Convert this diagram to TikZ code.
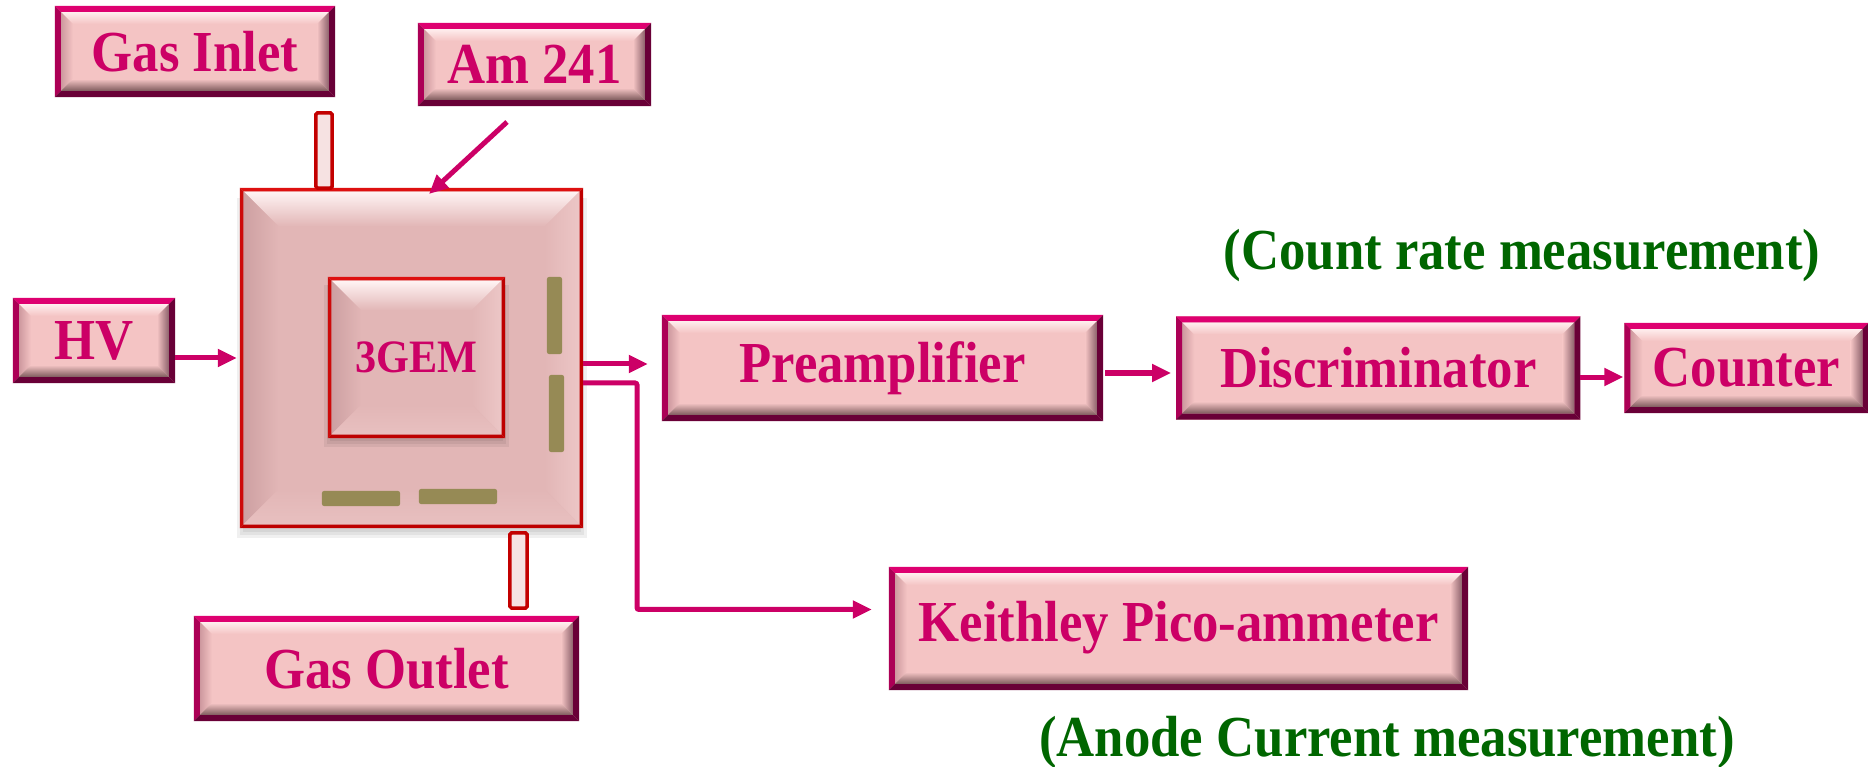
\documentclass[tikz,border=0pt]{standalone}
\usepackage{fontspec}
\setmainfont{Liberation Serif}
\usepackage{xcolor}
\usepackage{graphicx}
\usepackage{tikz}
\usetikzlibrary{positioning,arrows.meta,calc,backgrounds}
% label boxes
\definecolor{lbFill}{RGB}{244,196,196}
\definecolor{lbRimT}{RGB}{222,0,112}
\definecolor{lbRimL}{RGB}{172,0,86}
\definecolor{lbRimD}{RGB}{105,0,55}
\definecolor{lbBevT}{RGB}{255,238,238}
\definecolor{lbBevL}{RGB}{205,152,158}
\definecolor{lbBevR}{RGB}{140,96,106}
\definecolor{lbBevB}{RGB}{125,90,92}
% chamber boxes
\definecolor{chFill}{RGB}{226,182,182}
\definecolor{chRimT}{RGB}{222,16,16}
\definecolor{chRimL}{RGB}{205,10,10}
\definecolor{chRimD}{RGB}{190,0,0}
\definecolor{chBevT}{RGB}{255,244,244}
\definecolor{chBevL}{RGB}{205,160,162}
\definecolor{chBevR}{RGB}{236,198,198}
\definecolor{chBevB}{RGB}{232,192,192}
\definecolor{txtmag}{RGB}{204,0,102}
\definecolor{txtgreen}{RGB}{0,102,0}
\definecolor{barolive}{RGB}{150,138,85}
\definecolor{pipered}{RGB}{195,0,0}
\definecolor{pipefill}{RGB}{246,226,226}
\newcommand{\lblfont}{\bfseries\fontsize{15}{18}\selectfont}
\newcommand{\tall}[1]{\scalebox{1}[1.1]{#1}}
% #1 rim width, #2 bevel width, #3 colour prefix
\newcommand{\bevelpic}[3]{%
  \coordinate (NE) at (path picture bounding box.north east);
  \coordinate (SW) at (path picture bounding box.south west);
  \coordinate (NW) at (SW |- NE);
  \coordinate (SE) at (NE |- SW);
  \shade[top color=#3BevT, bottom color=#3Fill] ($(NW)+(#1,-#1)$) -- ($(NE)+(-#1,-#1)$) -- ($(NE)+(-#1-#2,-#1-#2)$) -- ($(NW)+(#1+#2,-#1-#2)$) -- cycle;
  \shade[left color=#3BevL, right color=#3Fill] ($(NW)+(#1,-#1)$) -- ($(SW)+(#1,#1)$) -- ($(SW)+(#1+#2,#1+#2)$) -- ($(NW)+(#1+#2,-#1-#2)$) -- cycle;
  \shade[left color=#3Fill, right color=#3BevR] ($(NE)+(-#1,-#1)$) -- ($(SE)+(-#1,#1)$) -- ($(SE)+(-#1-#2,#1+#2)$) -- ($(NE)+(-#1-#2,-#1-#2)$) -- cycle;
  \shade[top color=#3Fill, bottom color=#3BevB] ($(SW)+(#1,#1)$) -- ($(SE)+(-#1,#1)$) -- ($(SE)+(-#1-#2,#1+#2)$) -- ($(SW)+(#1+#2,#1+#2)$) -- cycle;
  \fill[#3RimT] (NW) -- (NE) -- ($(NE)+(-#1,-#1)$) -- ($(NW)+(#1,-#1)$) -- cycle;
  \fill[#3RimL] (NW) -- (SW) -- ($(SW)+(#1,#1)$) -- ($(NW)+(#1,-#1)$) -- cycle;
  \fill[#3RimD] (NE) -- (SE) -- ($(SE)+(-#1,#1)$) -- ($(NE)+(-#1,-#1)$) -- cycle;
  \fill[#3RimD] (SW) -- (SE) -- ($(SE)+(-#1,#1)$) -- ($(SW)+(#1,#1)$) -- cycle;
}
\tikzset{
  lblbox/.style = {fill=lbFill, inner sep=0pt, outer sep=0pt, text=txtmag, font=\lblfont,
                   path picture={\bevelpic{0.06cm}{0.12cm}{lb}}},
  chbox/.style  = {fill=chFill, inner sep=0pt, outer sep=0pt, text=txtmag,
                   path picture={\bevelpic{0.035cm}{#1}{ch}}},
  chbox/.default = 0.35cm,
  bar/.style    = {fill=barolive, rounded corners=0.02cm, inner sep=0pt, outer sep=0pt},
  pipe/.style   = {draw=pipered, line width=0.035cm, fill=pipefill, rounded corners=0.015cm, inner sep=0pt},
  note/.style   = {text=txtgreen, font=\lblfont, inner sep=0pt},
  softshadow/.style = {fill=black, opacity=0.06},
  flow/.style   = {-{Triangle[length=0.19cm,width=0.17cm]}, line width=0.05cm, draw=txtmag},
}

\begin{document}
\begin{tikzpicture}[x=0.01cm, y=-0.01cm]
  \useasboundingbox (0,0) rectangle (1868,767);
  % detector box
  \foreach \s in {0,3,6}
    \fill[softshadow] (243-\s,198) rectangle (581+\s,532+\s);
  \node[chbox, minimum width=3.43cm, minimum height=3.40cm] (chamber) at (411.5,358) {};
  \foreach \s in {0,3,6}
    \fill[softshadow] (330-\s,285) rectangle (503+\s,441+\s);
  \node[chbox=0.3cm, minimum width=1.77cm, minimum height=1.61cm,
        font=\bfseries\fontsize{12}{14}\selectfont] (gem) at (416.5,357.5) {\tall{3GEM}};
  \node[bar, minimum width=0.15cm, minimum height=0.77cm] (vbarA) at (554.5,315.5) {};
  \node[bar, minimum width=0.15cm, minimum height=0.77cm] (vbarB) at (556.5,413.5) {};
  \node[bar, minimum width=0.78cm, minimum height=0.15cm] (hbarA) at (361,498.5) {};
  \node[bar, minimum width=0.78cm, minimum height=0.15cm] (hbarB) at (458,496.5) {};
  \node[pipe, minimum width=0.16cm, minimum height=0.75cm] (inpipe) at (324,150.5) {};
  \node[pipe, minimum width=0.17cm, minimum height=0.75cm] (outpipe) at (518.5,570.5) {};

  % labels round the detector
  \node[lblbox, minimum width=2.80cm, minimum height=0.91cm] (gasin) at (195,51.5) {\tall{Gas Inlet}};
  \node[lblbox, minimum width=2.33cm, minimum height=0.83cm] (am) at (534.5,64.5) {\tall{Am 241}};
  \node[lblbox, minimum width=1.62cm, minimum height=0.85cm] (hv) at (94,340.5) {\tall{HV}};
  \node[lblbox, minimum width=3.85cm, minimum height=1.05cm] (gasout) at (386.5,668.5) {\tall{Gas Outlet}};

  % read-out chain
  \node[lblbox, minimum width=4.41cm, minimum height=1.06cm] (preamp) at (882.5,368) {\tall{Preamplifier}};
  \node[lblbox, minimum width=4.04cm, minimum height=1.03cm, right=0.73cm of preamp] (disc) {\tall{Discriminator}};
  \node[lblbox, minimum width=2.44cm, minimum height=0.90cm, right=0.44cm of disc] (counter) {\tall{Counter}};
  \node[lblbox, minimum width=5.79cm, minimum height=1.23cm] (keithley) at (1178.5,628.5) {\raisebox{0.15cm}{\tall{Keithley Pico-ammeter}}};
  \node[note, anchor=base] (countlbl) at (1522,270) {\tall{(Count rate measurement)}};
  \node[note, anchor=base] (anodelbl) at (1387,757) {\tall{(Anode Current measurement)}};

  \coordinate (amtail) at (507,122);
  \coordinate (amtip) at (429,194);
  \coordinate (sigA) at (583,364);
  \coordinate (sigB) at (583,383);
  \draw[flow] (amtail) -- (amtip);
  \draw[flow, shorten >=0.03cm] (chamber.west -| hv.east) -- (chamber.west);
  \draw[flow, shorten >=0.14cm] (sigA) -- (sigA -| preamp.west);
  \draw[flow, shorten >=0.17cm, rounded corners=0.02cm] (sigB) -- ++(54,0) |- ([yshift=0.19cm]keithley.west);
  \draw[flow, shorten <=0.02cm, shorten >=0.05cm] ([yshift=-0.05cm]preamp.east) -- ([yshift=-0.05cm]disc.west);
  \draw[flow, shorten >=0.01cm] ([yshift=-0.09cm]disc.east) -- ([yshift=-0.09cm]disc.east -| counter.west);
\end{tikzpicture}
\end{document}
